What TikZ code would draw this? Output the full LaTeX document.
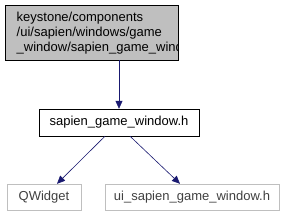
\documentclass[tikz,border=0pt]{standalone}
\usepackage{fontspec}
\setmainfont{Liberation Sans}
\usetikzlibrary{arrows.meta}
\definecolor{edgeblue}{HTML}{191970}
\definecolor{topfill}{HTML}{BFBFBF}
\definecolor{greyline}{HTML}{BFBFBF}
\definecolor{greytext}{HTML}{404040}
\tikzset{
  lbl/.style={font=\fontsize{13}{15}\selectfont},
  box/.style={draw=black, inner sep=0pt, lbl},
  greybox/.style={draw=greyline, inner sep=0pt, text=greytext, lbl},
  dep/.style={draw=edgeblue, line width=0.6pt, -{Triangle[length=8pt,width=7pt]}, color=edgeblue}
}
\begin{document}
\begin{tikzpicture}[x=1pt,y=-1pt]
\useasboundingbox (0,0) rectangle (287,216);
\node[box, fill=topfill, minimum width=173pt, minimum height=55pt] (top) at (91.5,32.5) {};
\begin{scope}
\clip (top.south west) rectangle (top.north east);
\node[lbl, inner sep=0pt, anchor=north west, align=left] (toptext) at (16.5,11.5)
  {keystone/components\\/ui/sapien/windows/game\\\_window/sapien\_game\_window.cpp};
\end{scope}
\node[box, fill=white, minimum width=160pt, minimum height=27pt] (mid) at (119,122.5) {sapien\_game\_window.h};
\node[greybox, minimum width=74pt, minimum height=26pt] (qw) at (44,197) {QWidget};
\node[greybox, minimum width=174pt, minimum height=26pt] (ui) at (192,197) {ui\_sapien\_game\_window.h};
\draw[dep] (top.south -| mid.north) -- (mid.north);
\draw[dep] ([xshift=-14pt]mid.south) -- ([xshift=13pt]qw.north);
\draw[dep] ([xshift=11pt]mid.south) -- ([xshift=-12pt]ui.north);
\end{tikzpicture}
\end{document}
